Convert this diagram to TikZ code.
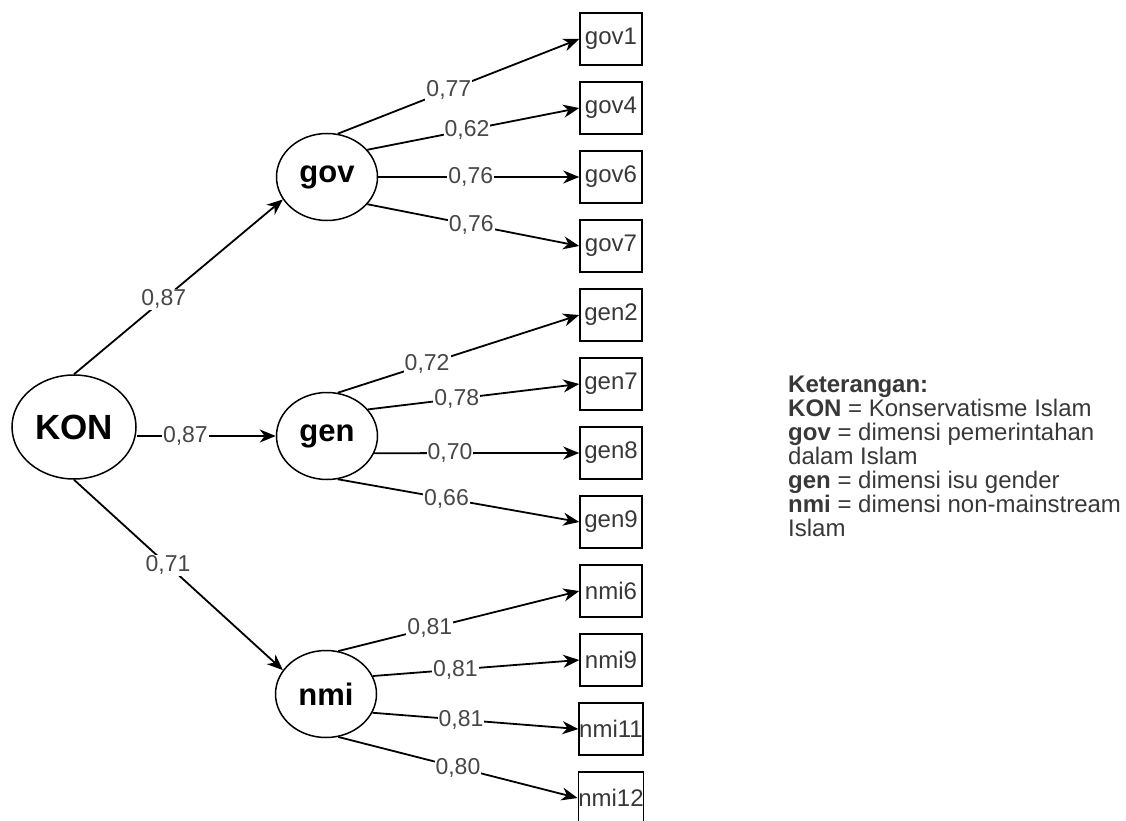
\documentclass[tikz,border=0pt]{standalone}
\usepackage{fontspec}
\setmainfont{Liberation Sans}
\usetikzlibrary{arrows.meta,positioning,shapes.geometric}
\tikzset{
  latent/.style={
    draw,
    ellipse,
    line width=1.5pt,
    inner sep=0pt,
    minimum width=101pt,
    minimum height=87pt,
    font=\fontsize{31}{36}\selectfont\bfseries
  },
  indicator/.style={
    draw,
    line width=1.5pt,
    inner sep=0pt,
    minimum width=62pt,
    minimum height=52pt,
    font=\fontsize{24}{28}\selectfont,
    text=black!78
  },
  link/.style={
    -{Stealth[length=16pt,width=13pt,inset=5pt]},
    line width=1.8pt
  },
  loading/.style={
    fill=white,
    inner sep=1pt,
    font=\fontsize{23}{27}\selectfont,
    text=black!72
  }
}

\begin{document}
\begin{tikzpicture}[x=1pt, y=-1pt, node distance=15.5pt]
  \useasboundingbox (0,0) rectangle (1126,821);

  % latent variables
  \node[latent, minimum width=124pt, minimum height=104pt,
    font=\fontsize{35}{40}\selectfont\bfseries] (KON) at (74,427) {KON};
  \node[latent] (gov) at (327,177) {gov};
  \node[latent] (gen) at (327,436) {gen};
  \node[latent] (nmi) at (326,694) {nmi};

  % indicators
  \node[indicator] (gov1) at (611,39) {gov1};
  \node[indicator, below=of gov1] (gov4) {gov4};
  \node[indicator, below=of gov4] (gov6) {gov6};
  \node[indicator, below=of gov6] (gov7) {gov7};
  \node[indicator, below=of gov7] (gen2) {gen2};
  \node[indicator, below=of gen2] (gen7) {gen7};
  \node[indicator, below=of gen7] (gen8) {gen8};
  \node[indicator, below=of gen8] (gen9) {gen9};
  \node[indicator, below=of gen9] (nmi6) {nmi6};
  \node[indicator, below=of nmi6] (nmi9) {nmi9};
  \node[indicator, below=of nmi9] (nmi11) {nmi11};
  \node[indicator, below=of nmi11] (nmi12) {nmi12};

  % second order loadings
  \draw[link] (KON.north) -- node[loading, pos=0.43] {0,87} (gov.207);
  \draw[link] (KON.east |- gen) -- node[loading, pos=0.35] {0,87} (gen);
  \draw[link] (KON.south) -- node[loading, pos=0.45] {0,71} (nmi.151);

  % first order loadings
  \draw[link] (gov.76) -- node[loading, pos=0.46] {0,77} (gov1.west);
  \draw[link] (gov.34) -- node[loading, pos=0.47] {0,62} (gov4.west);
  \draw[link] (gov.east) -- node[loading, pos=0.46] {0,76} (gov6.west);
  \draw[link] (gov.-34) -- node[loading, pos=0.49] {0,76} (gov7.west);

  \draw[link] (gen.76) -- node[loading, pos=0.37] {0,72} (gen2.west);
  \draw[link] (gen.33) -- node[loading, pos=0.42] {0,78} (gen7.west);
  \draw[link] (gen.-20) -- node[loading, pos=0.37] {0,70} (gen8.west);
  \draw[link] (gen.-76) -- node[loading, pos=0.45] {0,66} (gen9.west);

  \draw[link] (nmi.74) -- node[loading, pos=0.38] {0,81} (nmi6.west);
  \draw[link] (nmi.21) -- node[loading, pos=0.40] {0,81} (nmi9.west);
  \draw[link] (nmi.-22) -- node[loading, pos=0.43] {0,81} (nmi11.west);
  \draw[link] (nmi.-74) -- node[loading, pos=0.50] {0,80} (nmi12.west);

  % legend
  \node[anchor=north west, align=left, inner sep=0pt, text=black!78,
    font={\fontsize{24}{24}\selectfont}] (legend) at (788,376)
    {\textbf{Keterangan:}\\
     \textbf{KON} = Konservatisme Islam\\
     \textbf{gov} = dimensi pemerintahan\\
     dalam Islam\\
     \textbf{gen} = dimensi isu gender\\
     \textbf{nmi} = dimensi non-mainstream\\
     Islam};
\end{tikzpicture}
\end{document}
